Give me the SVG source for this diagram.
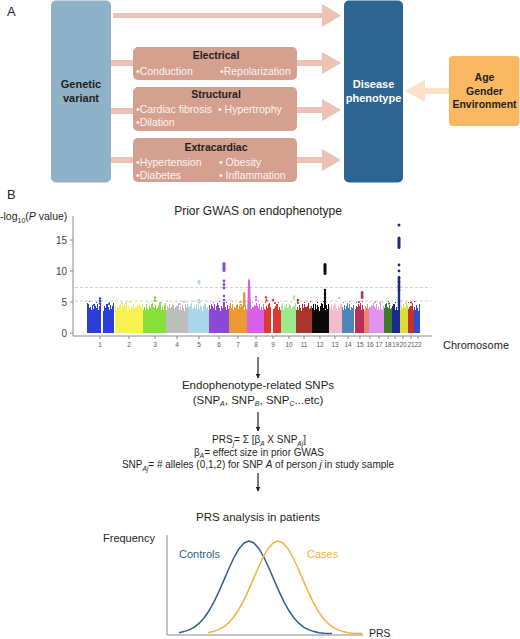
<svg xmlns="http://www.w3.org/2000/svg" width="520" height="639" viewBox="0 0 520 639">
<style>
text{font-family:'Liberation Sans',Arial,sans-serif;fill:#231f20}
.b{font-weight:bold}
.hd{font-weight:bold;font-size:10.5px;text-anchor:middle}
.it{font-size:10.5px;fill:#fdf3ee}
.lbl{font-size:13px}
.mid{font-size:11.5px;text-anchor:middle}
.fm{font-size:10px;text-anchor:middle}
.tk{font-size:6.5px;fill:#555;text-anchor:middle}
.yt{font-size:10px;fill:#444;text-anchor:end}
.arr{fill:#ebc2b4}
.stub{fill:#ebc2b4}
.ax{stroke:#8a8a8a;stroke-width:1;fill:none}
.dl{stroke:#c6c6c6;stroke-width:0.8;stroke-dasharray:3 2}
.v{stroke:#231f20;stroke-width:1.2;fill:none}
.cur{fill:none;stroke-width:1.5;stroke-linejoin:round}
</style>
<defs>
<marker id="ah" viewBox="0 0 10 10" refX="9" refY="5" markerWidth="5" markerHeight="5" orient="auto" markerUnits="userSpaceOnUse">
<path d="M0,0 L10,5 L0,10 z" fill="#231f20"/>
</marker>
<pattern id="jagA" patternUnits="userSpaceOnUse" x="0" y="301" width="9" height="12">
<g fill="#fff">
<rect x="0" y="6" width="1" height="6"/><rect x="1" y="9" width="1" height="3"/><rect x="2" y="4" width="1" height="8"/>
<rect x="3" y="8" width="1" height="4"/><rect x="4" y="10" width="1" height="2"/><rect x="5" y="5" width="1" height="7"/>
<rect x="6" y="7" width="1" height="5"/><rect x="7" y="3" width="1" height="9"/><rect x="8" y="9" width="1" height="3"/>
</g>
</pattern>
<pattern id="jagB" patternUnits="userSpaceOnUse" x="0" y="301" width="13" height="12">
<g fill="#fff">
<rect x="0" y="10" width="1" height="2"/><rect x="1" y="7" width="1" height="5"/><rect x="2" y="11" width="1" height="1"/>
<rect x="3" y="3" width="1" height="9"/><rect x="4" y="8" width="1" height="4"/><rect x="5" y="9" width="1" height="3"/>
<rect x="6" y="6" width="1" height="6"/><rect x="7" y="10" width="1" height="2"/><rect x="8" y="5" width="1" height="7"/>
<rect x="9" y="2" width="1" height="10"/><rect x="10" y="9" width="1" height="3"/><rect x="11" y="7" width="1" height="5"/>
<rect x="12" y="11" width="1" height="1"/><rect x="5" y="1" width="1" height="1"/><rect x="11" y="0" width="1" height="1"/>
</g>
</pattern>
<mask id="mh" maskUnits="userSpaceOnUse" x="80" y="295" width="350" height="45">
<rect x="80" y="313" width="350" height="21" fill="#fff"/>
<rect x="80" y="301" width="350" height="12" fill="url(#jagA)"/>
<rect x="80" y="301" width="350" height="12" fill="url(#jagB)"/>
</mask>
</defs>
<rect width="520" height="639" fill="#fff"/>

<!-- Panel A -->
<text class="lbl" x="7" y="16">A</text>

<g id="connectors">
<polygon class="arr" points="113,13 322,13 322,4 341,15.5 322,27 322,18 113,18"/>
<rect class="stub" x="111" y="60" width="22" height="6"/>
<rect class="stub" x="111" y="108" width="22" height="6"/>
<rect class="stub" x="111" y="157" width="22" height="6"/>
<polygon class="arr" points="297,60 322,60 322,52 341,63 322,74 322,66 297,66"/>
<polygon class="arr" points="297,107 322,107 322,99 341,110 322,121 322,113 297,113"/>
<polygon class="arr" points="297,157 322,157 322,149 341,160 322,171 322,163 297,163"/>
<polygon fill="#fde0c6" points="449,88 425,88 425,80 405,91 425,102 425,94 449,94"/>
<line class="v" x1="258" y1="357" x2="258" y2="378" marker-end="url(#ah)"/>
<line class="v" x1="258" y1="412" x2="258" y2="431" marker-end="url(#ah)"/>
<line class="v" x1="258" y1="473" x2="258" y2="491" marker-end="url(#ah)"/>
</g>

<g id="genetic-variant">
<rect x="51" y="0.5" width="60" height="182" rx="5" fill="#8fb2c9"/>
<text class="b" x="81" y="88" font-size="11" text-anchor="middle">Genetic</text>
<text class="b" x="81" y="101.5" font-size="11" text-anchor="middle">variant</text>
</g>

<g id="electrical">
<rect x="133" y="47" width="164" height="33" rx="5" fill="#d4a08f"/>
<text class="hd" x="216" y="59">Electrical</text>
<text class="it" x="136" y="75">•Conduction</text>
<text class="it" x="220" y="75">•Repolarization</text>
</g>

<g id="structural">
<rect x="133" y="87" width="164" height="44" rx="5" fill="#d4a08f"/>
<text class="hd" x="216" y="98">Structural</text>
<text class="it" x="136" y="113">•Cardiac fibrosis</text>
<text class="it" x="218" y="113">• Hypertrophy</text>
<text class="it" x="136" y="126">•Dilation</text>
</g>

<g id="extracardiac">
<rect x="133" y="138" width="164" height="44" rx="5" fill="#d4a08f"/>
<text class="hd" x="216" y="151">Extracardiac</text>
<text class="it" x="136" y="166">•Hypertension</text>
<text class="it" x="219" y="166">• Obesity</text>
<text class="it" x="136" y="178.5">•Diabetes</text>
<text class="it" x="219" y="178.5">• Inflammation</text>
</g>

<g id="disease-phenotype">
<rect x="344" y="0.5" width="59" height="182" rx="5" fill="#2d6590"/>
<text class="b" x="373.5" y="88" font-size="11" text-anchor="middle" style="fill:#fff">Disease</text>
<text class="b" x="373.5" y="101.5" font-size="11" text-anchor="middle" style="fill:#fff">phenotype</text>
</g>

<g id="age-gender-environment">
<rect x="449" y="56" width="70.5" height="70" rx="4" fill="#fbb862"/>
<text class="b" x="484.5" y="81" font-size="10.5" text-anchor="middle">Age</text>
<text class="b" x="484.5" y="94.5" font-size="10.5" text-anchor="middle">Gender</text>
<text class="b" x="484.5" y="108" font-size="10.5" text-anchor="middle">Environment</text>
</g>

<!-- Panel B -->
<text class="lbl" x="7" y="199">B</text>

<g id="manhattan-plot">
<text x="258" y="215" font-size="12" text-anchor="middle">Prior GWAS on endophenotype</text>
<text x="0" y="220" font-size="10.5">-log<tspan font-size="7" dy="3">10</tspan><tspan dy="-3">(</tspan><tspan font-style="italic">P</tspan> value)</text>
<line class="dl" x1="75" y1="287.5" x2="431" y2="287.5"/>
<line class="dl" x1="75" y1="301" x2="431" y2="301"/>
<path class="ax" d="M73,216 V336 H432"/>
<path class="ax" d="M70,240 H73 M70,271 H73 M70,302 H73 M70,333 H73"/>
<text class="yt" x="67" y="243.5">15</text>
<text class="yt" x="67" y="274.5">10</text>
<text class="yt" x="67" y="305.5">5</text>
<text class="yt" x="67" y="336.5">0</text>
<g mask="url(#mh)">
<rect x="87" y="300" width="14" height="33" fill="#2b3fd8"/>
<rect x="103" y="300" width="11" height="33" fill="#2b3fd8"/>
<rect x="115" y="300" width="28" height="33" fill="#f7f24f"/>
<rect x="143" y="300" width="23" height="33" fill="#85e03c"/>
<rect x="166" y="300" width="22" height="33" fill="#bdbdbd"/>
<rect x="188" y="300" width="21" height="33" fill="#abd5e8"/>
<rect x="209" y="300" width="20" height="33" fill="#8a48d6"/>
<rect x="229" y="300" width="18" height="33" fill="#e89a30"/>
<rect x="247" y="300" width="17" height="33" fill="#d85fe8"/>
<rect x="264" y="300" width="7" height="33" fill="#dc3a30"/>
<rect x="273" y="300" width="8" height="33" fill="#dc3a30"/>
<rect x="281" y="300" width="15" height="33" fill="#9ee88e"/>
<rect x="296" y="300" width="16" height="33" fill="#a8342c"/>
<rect x="312" y="300" width="17" height="33" fill="#0a0a0a"/>
<rect x="329" y="300" width="13" height="33" fill="#f2bccb"/>
<rect x="342" y="300" width="12" height="33" fill="#4c86bc"/>
<rect x="355" y="300" width="9" height="33" fill="#b8305a"/>
<rect x="364" y="300" width="5" height="33" fill="#ec8470"/>
<rect x="369" y="300" width="15" height="33" fill="#e293ec"/>
<rect x="384" y="300" width="8" height="33" fill="#3c7a2c"/>
<rect x="392" y="300" width="8" height="33" fill="#1b2a8c"/>
<rect x="400" y="300" width="8" height="33" fill="#dcdc3c"/>
<rect x="408" y="300" width="6" height="33" fill="#c4322c"/>
<rect x="414" y="300" width="6" height="33" fill="#2c4cd4"/>
</g>
<g fill="#2b3fd8"><circle cx="100" cy="298.5" r="1.3"/><circle cx="100" cy="301" r="1.3"/><circle cx="100" cy="303.5" r="1.3"/><circle cx="94" cy="305" r="1.1"/><circle cx="109" cy="304" r="1.1"/></g>
<g fill="#e8e440"><circle cx="122" cy="303" r="1.1"/><circle cx="126" cy="303" r="1.1"/><circle cx="130" cy="302" r="1.1"/></g>
<g fill="#7ad234"><circle cx="155" cy="297.5" r="1.3"/><circle cx="155" cy="300.5" r="1.2"/><circle cx="160" cy="303" r="1.1"/></g>
<g fill="#bdbdbd"><circle cx="180" cy="304" r="1.1"/><circle cx="184" cy="302" r="1.1"/></g>
<g fill="#abd5e8"><rect x="197.6" y="280" width="2.8" height="4.5" rx="1.4"/><circle cx="199" cy="300" r="1.2"/><circle cx="199" cy="302.5" r="1.2"/></g>
<g fill="#8a48d6"><rect x="222.5" y="262" width="3" height="10" rx="1.5"/><circle cx="224" cy="281" r="1.4"/><circle cx="224" cy="284.5" r="1.4"/><circle cx="224" cy="288" r="1.4"/><circle cx="224" cy="296" r="1.3"/><circle cx="224" cy="300" r="1.3"/><circle cx="224" cy="303" r="1.2"/></g>
<g fill="#e89a30"><rect x="243" y="292" width="2.4" height="15" rx="1.2"/><circle cx="240.5" cy="302" r="1.1"/><circle cx="240.5" cy="305" r="1.1"/></g>
<path d="M247.2,313 L248,281 Q249,276 250,281 L251.2,313 Z" fill="#d85fe8"/>
<g fill="#d85fe8"><circle cx="256" cy="297" r="1.2"/><circle cx="256" cy="300" r="1.1"/></g>
<g fill="#dc3a30"><circle cx="266" cy="297.5" r="1.2"/><circle cx="266.5" cy="300.5" r="1.2"/><circle cx="273" cy="300" r="1.2"/><circle cx="275" cy="303" r="1.1"/></g>
<g fill="#9ee88e"><circle cx="294" cy="296.5" r="1.2"/><circle cx="294" cy="299" r="1.1"/></g>
<g fill="#a8342c"><circle cx="298" cy="300" r="1.2"/><circle cx="298" cy="303" r="1.1"/></g>
<g fill="#0a0a0a"><rect x="323.5" y="263" width="3" height="12" rx="1.5"/><rect x="324" y="289" width="2" height="20" rx="1"/><circle cx="325" cy="290" r="1.3"/><circle cx="325" cy="294" r="1.3"/><circle cx="325" cy="298" r="1.3"/><circle cx="325" cy="302" r="1.3"/></g>
<g fill="#f2bccb"><circle cx="339" cy="298" r="1.2"/></g>
<g fill="#b8305a"><rect x="360.8" y="291" width="2.6" height="8" rx="1.3"/><circle cx="359" cy="302" r="1.1"/></g>
<g fill="#e293ec"><circle cx="375" cy="302" r="1.1"/><circle cx="380" cy="303" r="1.1"/></g>
<g fill="#3c7a2c"><circle cx="389" cy="303.5" r="1.1"/></g>
<g fill="#1b2a8c"><circle cx="399" cy="225" r="1.5"/><rect x="397.5" y="236.5" width="3" height="12.5" rx="1.5"/><circle cx="399" cy="265" r="1.4"/><circle cx="399" cy="271" r="1.4"/><rect x="397.8" y="276" width="2.4" height="34" rx="1.2"/><circle cx="399" cy="278" r="1.4"/><circle cx="399" cy="282" r="1.4"/><circle cx="399" cy="286" r="1.4"/><circle cx="399" cy="290" r="1.4"/></g>
<g fill="#dcdc3c"><circle cx="406" cy="303" r="1.1"/></g>
<g fill="#c4322c"><circle cx="411" cy="302.5" r="1.1"/></g>
<path class="ax" d="M100,336 v3 M129,336 v3 M155,336 v3 M177,336 v3 M199,336 v3 M219,336 v3 M238,336 v3 M256,336 v3 M273,336 v3 M289,336 v3 M304,336 v3 M320,336 v3 M335,336 v3 M348,336 v3 M360,336 v3 M370,336 v3 M379,336 v3 M388,336 v3 M395,336 v3 M403,336 v3 M411,336 v3 M418,336 v3" stroke-width="0.7"/>
<text class="tk" x="100" y="347">1</text><text class="tk" x="129" y="347">2</text><text class="tk" x="155" y="347">3</text><text class="tk" x="177" y="347">4</text>
<text class="tk" x="199" y="347">5</text><text class="tk" x="219" y="347">6</text><text class="tk" x="238" y="347">7</text><text class="tk" x="256" y="347">8</text>
<text class="tk" x="273" y="347">9</text><text class="tk" x="289" y="347">10</text><text class="tk" x="304" y="347">11</text><text class="tk" x="320" y="347">12</text>
<text class="tk" x="335" y="347">13</text><text class="tk" x="348" y="347">14</text><text class="tk" x="360" y="347">15</text><text class="tk" x="370" y="347">16</text>
<text class="tk" x="379" y="347">17</text><text class="tk" x="388" y="347">18</text><text class="tk" x="395.5" y="347">19</text><text class="tk" x="403" y="347">20</text>
<text class="tk" x="411" y="347">21</text><text class="tk" x="418" y="347">22</text>
<text x="443" y="349" font-size="11">Chromosome</text>
</g>

<g id="snps">
<text class="mid" x="258" y="389">Endophenotype-related SNPs</text>
<text class="mid" x="258" y="403.5" font-size="10.5">(SNP<tspan font-size="7" font-style="italic" dy="2.5">A</tspan><tspan dy="-2.5">, SNP</tspan><tspan font-size="7" font-style="italic" dy="2.5">B</tspan><tspan dy="-2.5">, SNP</tspan><tspan font-size="7" font-style="italic" dy="2.5">C</tspan><tspan dy="-2.5">...etc)</tspan></text>
</g>

<g id="prs-formula">
<text class="fm" x="259" y="443" font-size="10.5">PRS<tspan font-size="6.5" font-style="italic" dy="2.5">j</tspan><tspan dy="-2.5">= Σ [β</tspan><tspan font-size="6.5" font-style="italic" dy="2.5">A</tspan><tspan dy="-2.5"> X SNP</tspan><tspan font-size="6.5" font-style="italic" dy="2.5">Aj</tspan><tspan dy="-2.5">]</tspan></text>
<text class="fm" x="259" y="455.5">β<tspan font-size="6.5" font-style="italic" dy="2.5">A</tspan><tspan dy="-2.5">= effect size in prior GWAS</tspan></text>
<text class="fm" x="258" y="468">SNP<tspan font-size="6.5" font-style="italic" dy="2.5">Aj</tspan><tspan dy="-2.5">= # alleles (0,1,2) for SNP </tspan><tspan font-style="italic">A</tspan> of person <tspan font-style="italic">j</tspan> in study sample</text>
</g>

<g id="prs-analysis">
<text class="mid" x="258" y="521">PRS analysis in patients</text>
<text x="103" y="542" font-size="11">Frequency</text>
<path class="ax" d="M167,535 V635 H363"/>
<text x="369" y="637" font-size="10.5">PRS</text>
<path class="cur" stroke="#2f5f8a" d="M179,632.7 L184,631.6 L189,629.9 L194,627.3 L199,623.4 L204,618 L209,610.8 L214,601.9 L219,591.4 L224,579.9 L229,568.3 L234,557.5 L239,548.7 L244,543 L249,541 L254,543 L259,548.7 L264,557.5 L269,568.3 L274,579.9 L279,591.4 L284,601.9 L289,610.8 L294,618 L299,623.4 L304,627.3 L309,629.9 L314,631.6 L319,632.7 L324,633.3 L332,633.6"/>
<path class="cur" stroke="#f5b041" d="M208,632.7 L213,631.6 L218,629.9 L223,627.3 L228,623.4 L233,618 L238,610.8 L243,601.9 L248,591.4 L253,579.9 L258,568.3 L263,557.5 L268,548.7 L273,543 L278,541 L283,543 L288,548.7 L293,557.5 L298,568.3 L303,579.9 L308,591.4 L313,601.9 L318,610.8 L323,618 L328,623.4 L333,627.3 L338,629.9 L343,631.6 L348,632.7 L353,633.3 L362,633.6"/>
<text x="179" y="558" font-size="11" style="fill:#2f5f8a">Controls</text>
<text x="307" y="558" font-size="11" style="fill:#f5b041">Cases</text>
</g>
</svg>
